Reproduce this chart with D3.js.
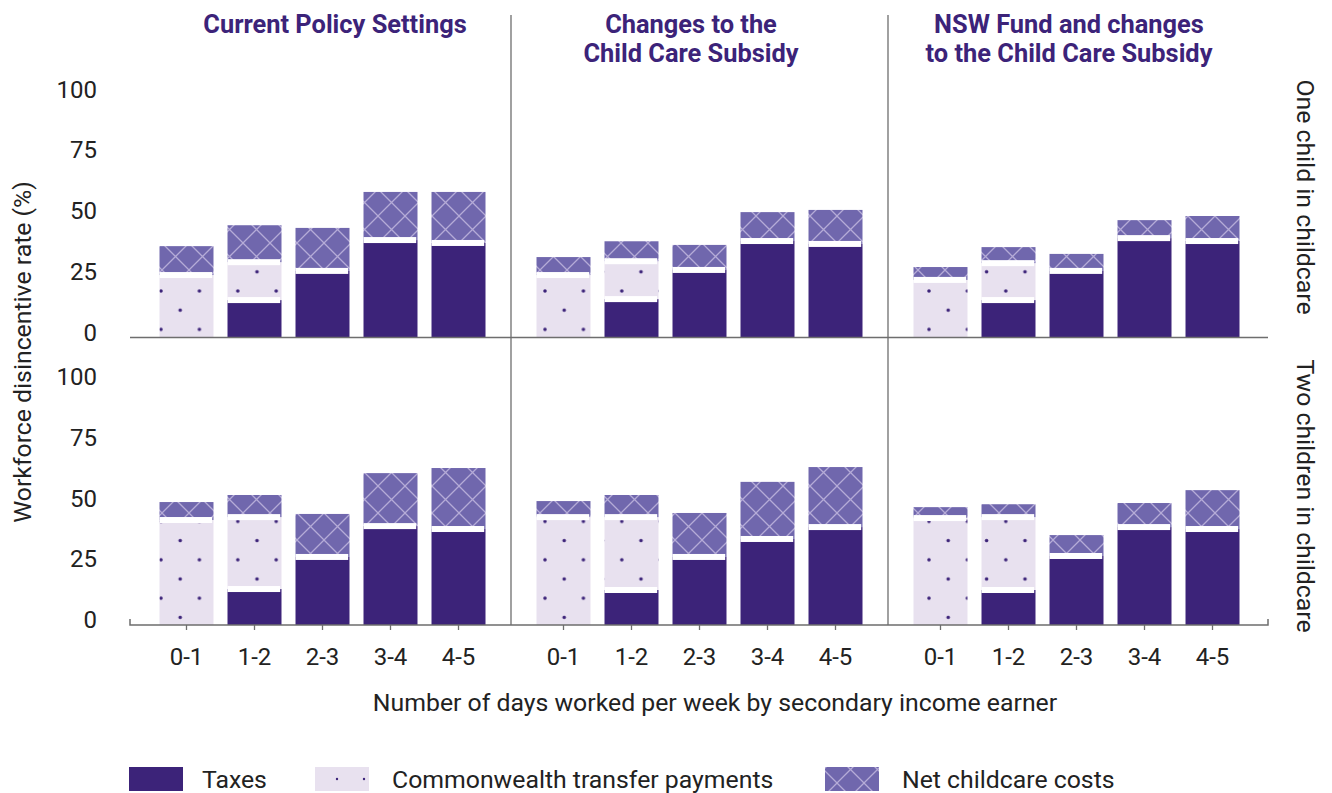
<!DOCTYPE html>
<html>
<head>
<meta charset="utf-8">
<script src="https://cdn.jsdelivr.net/npm/d3@7"></script>
<style>
  body { margin: 0; background: #fff; }
  text { font-family: Roboto, "Noto Sans", sans-serif; }
</style>
</head>
<body>
<div id="chart"></div>
<script>
// categories
var panels = ["Current Policy Settings", "Changes to the\nChild Care Subsidy", "NSW Fund and changes\nto the Child Care Subsidy"];
var rowLabels = ["One child in childcare", "Two children in childcare"];
var days = ["0-1", "1-2", "2-3", "3-4", "4-5"];
var yTicks = [0, 25, 50, 75, 100];
var keys = ["taxes", "transfer", "childcare"];
var legendLabels = ["Taxes", "Commonwealth transfer payments", "Net childcare costs"];

// values (%), one array per panel: current, CCS changes, NSW fund
var taxesOne     = [[0, 15.4, 27.4, 40.1, 38.9], [0, 15.8, 27.8, 39.7, 38.5], [0, 15.4, 27.4, 40.9, 39.7]];
var transferOne  = [[25.7, 15.6, 0, 0, 0], [25.7, 15.6, 0, 0, 0], [23.7, 15.2, 0, 0, 0]];
var childcareOne = [[11.9, 15.2, 17.7, 19.8, 21.0], [7.4, 8.2, 10.3, 11.9, 14.0], [5.3, 6.6, 7.0, 7.4, 10.3]];

var taxesTwo     = [[0, 14.8, 28.0, 40.7, 39.5], [0, 14.4, 28.0, 35.4, 40.3], [0, 14.4, 28.4, 40.3, 39.5]];
var transferTwo  = [[43.2, 29.6, 0, 0, 0], [44.4, 30.0, 0, 0, 0], [44.0, 30.0, 0, 0, 0]];
var childcareTwo = [[7.4, 9.1, 17.7, 21.8, 25.1], [6.6, 9.1, 18.1, 23.5, 24.7], [4.5, 5.3, 8.6, 9.9, 16.0]];

var width = 1332, height = 793;
var dark = "#3c2379", textCol = "#222", lineCol = "#6e6e6e";
var fontSize = 24.8;

var svg = d3.select("#chart")
  .append("svg")
    .attr("width", width)
    .attr("height", height);

// patterns
var defs = svg.append("defs");
var dots = defs.append("pattern")
    .attr("id", "dots")
    .attr("patternUnits", "userSpaceOnUse")
    .attr("x", 7.4).attr("y", 22.2)
    .attr("width", 38.4).attr("height", 38.4);
dots.append("rect").attr("width", 38.4).attr("height", 38.4).attr("fill", "#e8e1ef");
[[0, 0], [38.4, 0], [0, 38.4], [38.4, 38.4], [19.2, 19.2]].forEach(function(p) {
  dots.append("circle").attr("cx", p[0]).attr("cy", p[1]).attr("r", 1.8).attr("fill", dark);
});

var hatch = defs.append("pattern")
    .attr("id", "hatch")
    .attr("patternUnits", "userSpaceOnUse")
    .attr("width", 27).attr("height", 27);
hatch.append("rect").attr("width", 27).attr("height", 27).attr("fill", "#7067ad");
hatch.append("path")
    .attr("d", "M0,0L27,27M27,0L0,27")
    .attr("stroke", "#b5abd7").attr("stroke-width", 1.3);

var legDots = defs.append("pattern")
    .attr("id", "legdots")
    .attr("patternUnits", "userSpaceOnUse")
    .attr("x", 323).attr("y", 766)
    .attr("width", 27).attr("height", 27);
legDots.append("rect").attr("width", 27).attr("height", 27).attr("fill", "#e8e1ef");
legDots.append("circle").attr("cx", 14).attr("cy", 13).attr("r", 1.2).attr("fill", dark);

var fills = { taxes: dark, transfer: "url(#dots)", childcare: "url(#hatch)" };

// scales
var px = d3.scaleBand().domain(panels).range([134, 1265]);
var rowBase = [337.5, 625];
var stripY = [197, 496];
var yScales = rowBase.map(function(b) {
  return d3.scaleLinear().domain([0, 100]).range([b, b - 243]);
});

var stack = d3.stack().keys(keys);
var rowsData = [
  [taxesOne, transferOne, childcareOne],
  [taxesTwo, transferTwo, childcareTwo]
];

rowsData.forEach(function(rowArrs, r) {
  var y = yScales[r];

  panels.forEach(function(p, pi) {
    var x = d3.scaleBand()
      .domain(days)
      .range([px(p), px(p) + px.bandwidth()])
      .paddingInner(0.206)
      .paddingOuter(0.375);

    var table = days.map(function(d, i) {
      return { day: d, taxes: rowArrs[0][pi][i], transfer: rowArrs[1][pi][i], childcare: rowArrs[2][pi][i] };
    });
    var series = stack(table);

    var g = svg.append("g");
    g.selectAll("g")
      .data(series)
      .enter().append("g")
        .attr("fill", function(s) { return fills[s.key]; })
      .selectAll("rect")
      .data(function(s) { return s; })
      .enter().append("rect")
        .attr("x", function(d) { return x(d.data.day); })
        .attr("width", x.bandwidth())
        .attr("y", function(d) { return y(d[1]); })
        .attr("height", function(d) { return y(d[0]) - y(d[1]); });

    // white gaps between stacked segments
    var gaps = [];
    series.forEach(function(s, k) {
      if (k === 0) return;
      s.forEach(function(d) {
        if (d[1] > d[0] && d[0] > 0) gaps.push({ day: d.data.day, v: d[0] });
      });
    });
    g.selectAll(".gap")
      .data(gaps)
      .enter().append("rect")
        .attr("class", "gap")
        .attr("fill", "#fff")
        .attr("x", function(d) { return x(d.day); })
        .attr("width", x.bandwidth() - 1.3)
        .attr("y", function(d) { return y(d.v) - 3; })
        .attr("height", 6);

    // x axis ticks/labels on the bottom row
    if (r === 1) {
      var ax = svg.append("g")
        .attr("transform", "translate(0," + rowBase[1] + ")")
        .call(d3.axisBottom(x).tickSizeInner(5).tickSizeOuter(0).tickPadding(18));
      ax.select(".domain").remove();
      ax.selectAll("line").attr("stroke", lineCol).attr("stroke-width", 1.3);
      ax.selectAll("text").attr("font-size", 24).attr("fill", textCol)
        .attr("font-family", "Roboto, sans-serif");
    }
  });

  // y axis labels
  var ya = svg.append("g")
    .attr("transform", "translate(97,0)")
    .call(d3.axisLeft(y).tickValues(yTicks).tickSize(0).tickPadding(0));
  ya.select(".domain").remove();
  ya.selectAll("text")
    .attr("font-size", 24)
    .attr("fill", textCol)
    .attr("font-family", "Roboto, sans-serif")
    .attr("transform", "translate(0,-5)");

  // baseline
  var base = rowBase[r];
  var pathD = r === 0
    ? "M130," + base + "H1268"
    : "M130," + (base - 6) + "V" + base + "H1268V" + (base - 6);
  svg.append("path")
    .attr("d", pathD)
    .attr("fill", "none")
    .attr("stroke", lineCol)
    .attr("stroke-width", 1.5);

  // facet strip label (right side)
  svg.append("text")
    .attr("transform", "translate(1305," + stripY[r] + ") rotate(90)")
    .attr("text-anchor", "middle")
    .attr("dominant-baseline", "central")
    .attr("font-size", fontSize)
    .attr("fill", textCol)
    .text(rowLabels[r]);
});

// panel separators
[px(panels[1]), px(panels[2])].forEach(function(xv) {
  svg.append("line")
    .attr("x1", xv).attr("x2", xv)
    .attr("y1", 15).attr("y2", rowBase[1])
    .attr("stroke", lineCol)
    .attr("stroke-width", 1.3);
});

// panel titles
var titleX = [335, 691, 1069];
panels.forEach(function(p, i) {
  var t = svg.append("text")
    .attr("text-anchor", "middle")
    .attr("font-size", 25.4)
    .attr("font-weight", "bold")
    .attr("fill", dark);
  p.split("\n").forEach(function(line, li) {
    t.append("tspan").attr("x", titleX[i]).attr("y", 33 + li * 29).text(line);
  });
});

// axis titles
svg.append("text")
  .attr("transform", "translate(22,352) rotate(-90)")
  .attr("text-anchor", "middle")
  .attr("dominant-baseline", "central")
  .attr("font-size", fontSize)
  .attr("fill", textCol)
  .text("Workforce disincentive rate (%)");

svg.append("text")
  .attr("x", 715).attr("y", 711)
  .attr("text-anchor", "middle")
  .attr("font-size", fontSize)
  .attr("fill", textCol)
  .text("Number of days worked per week by secondary income earner");

// legend
var legX = [129, 315, 825];
var legTextX = [202, 392, 902];
var legFills = [dark, "url(#legdots)", "url(#hatch)"];
legendLabels.forEach(function(l, i) {
  svg.append("rect")
    .attr("x", legX[i]).attr("y", 767)
    .attr("width", 54).attr("height", 24)
    .attr("fill", legFills[i]);
  svg.append("text")
    .attr("x", legTextX[i]).attr("y", 779)
    .attr("dominant-baseline", "central")
    .attr("font-size", fontSize)
    .attr("fill", textCol)
    .text(l);
});
</script>
</body>
</html>
